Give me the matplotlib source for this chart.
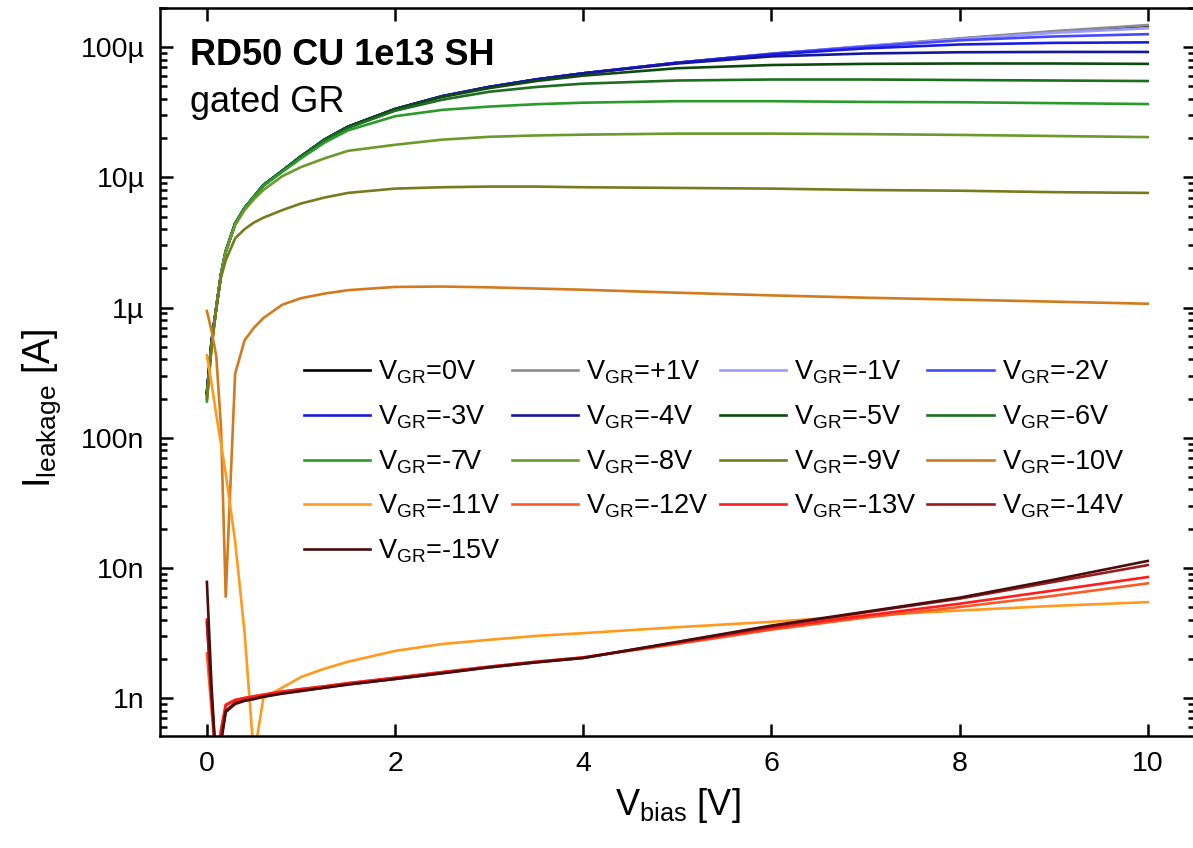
import matplotlib
matplotlib.use('Agg')
import matplotlib.pyplot as plt

plt.rcParams['font.family'] = ['Liberation Sans', 'DejaVu Sans']
plt.rcParams['mathtext.fontset'] = 'custom'
plt.rcParams['mathtext.rm'] = 'Liberation Sans'
plt.rcParams['mathtext.it'] = 'Liberation Sans:italic'
plt.rcParams['mathtext.bf'] = 'Liberation Sans:bold'

# bias voltage points [V]
v_bias = [0, 0.05, 0.1, 0.15, 0.2, 0.3, 0.4, 0.5, 0.6, 0.8, 1.0, 1.25,
          1.5, 2, 2.5, 3, 3.5, 4, 5, 6, 7, 8, 9, 10]

# leakage current [A] for each guard ring voltage
i_gr_0 = [2.2e-7, 5.5e-7, 1.0e-6, 1.8e-6, 2.7e-6, 4.4e-6, 5.8e-6, 7.1e-6, 8.7e-6,
          1.12e-5, 1.45e-5, 1.95e-5, 2.45e-5, 3.35e-5, 4.2e-5, 4.95e-5, 5.65e-5,
          6.3e-5, 7.6e-5, 8.85e-5, 1.01e-4, 1.16e-4, 1.31e-4, 1.46e-4]
i_gr_p1 = [2.2e-7, 5.5e-7, 1.0e-6, 1.8e-6, 2.7e-6, 4.4e-6, 5.8e-6, 7.1e-6, 8.7e-6,
           1.12e-5, 1.45e-5, 1.95e-5, 2.45e-5, 3.35e-5, 4.2e-5, 4.95e-5, 5.65e-5,
           6.3e-5, 7.6e-5, 8.9e-5, 1.02e-4, 1.17e-4, 1.33e-4, 1.48e-4]
i_gr_m1 = [2.2e-7, 5.5e-7, 1.0e-6, 1.8e-6, 2.7e-6, 4.4e-6, 5.8e-6, 7.1e-6, 8.7e-6,
           1.12e-5, 1.45e-5, 1.95e-5, 2.45e-5, 3.35e-5, 4.2e-5, 4.95e-5, 5.65e-5,
           6.3e-5, 7.6e-5, 8.9e-5, 1.02e-4, 1.15e-4, 1.29e-4, 1.40e-4]
i_gr_m2 = [2.2e-7, 5.5e-7, 1.0e-6, 1.8e-6, 2.7e-6, 4.4e-6, 5.8e-6, 7.1e-6, 8.7e-6,
           1.12e-5, 1.45e-5, 1.95e-5, 2.45e-5, 3.35e-5, 4.2e-5, 4.95e-5, 5.65e-5,
           6.3e-5, 7.6e-5, 8.9e-5, 1.01e-4, 1.13e-4, 1.21e-4, 1.26e-4]
i_gr_m3 = [2.2e-7, 5.5e-7, 1.0e-6, 1.8e-6, 2.7e-6, 4.4e-6, 5.8e-6, 7.1e-6, 8.7e-6,
           1.12e-5, 1.45e-5, 1.95e-5, 2.45e-5, 3.35e-5, 4.2e-5, 4.95e-5, 5.65e-5,
           6.3e-5, 7.6e-5, 8.8e-5, 9.8e-5, 1.05e-4, 1.08e-4, 1.09e-4]
i_gr_m4 = [2.2e-7, 5.5e-7, 1.0e-6, 1.8e-6, 2.7e-6, 4.4e-6, 5.8e-6, 7.1e-6, 8.7e-6,
           1.12e-5, 1.45e-5, 1.95e-5, 2.45e-5, 3.35e-5, 4.2e-5, 4.95e-5, 5.65e-5,
           6.3e-5, 7.5e-5, 8.5e-5, 8.95e-5, 9.15e-5, 9.2e-5, 9.2e-5]
i_gr_m5 = [2.2e-7, 5.5e-7, 1.0e-6, 1.8e-6, 2.7e-6, 4.4e-6, 5.8e-6, 7.1e-6, 8.7e-6,
           1.12e-5, 1.45e-5, 1.95e-5, 2.45e-5, 3.35e-5, 4.15e-5, 4.85e-5, 5.5e-5,
           6.05e-5, 6.9e-5, 7.3e-5, 7.45e-5, 7.5e-5, 7.5e-5, 7.45e-5]
i_gr_m6 = [2.1e-7, 5.3e-7, 1.0e-6, 1.8e-6, 2.7e-6, 4.4e-6, 5.8e-6, 7.1e-6, 8.7e-6,
           1.12e-5, 1.45e-5, 1.93e-5, 2.4e-5, 3.25e-5, 3.95e-5, 4.55e-5, 4.95e-5,
           5.25e-5, 5.55e-5, 5.65e-5, 5.65e-5, 5.6e-5, 5.55e-5, 5.5e-5]
i_gr_m7 = [1.9e-7, 5.0e-7, 1.0e-6, 1.8e-6, 2.7e-6, 4.4e-6, 5.8e-6, 7.1e-6, 8.6e-6,
           1.1e-5, 1.4e-5, 1.85e-5, 2.3e-5, 2.95e-5, 3.3e-5, 3.5e-5, 3.65e-5,
           3.75e-5, 3.85e-5, 3.85e-5, 3.8e-5, 3.78e-5, 3.72e-5, 3.66e-5]
i_gr_m8 = [2.0e-7, 5.0e-7, 1.0e-6, 1.8e-6, 2.7e-6, 4.3e-6, 5.6e-6, 6.8e-6, 8.0e-6,
           1.02e-5, 1.2e-5, 1.4e-5, 1.6e-5, 1.78e-5, 1.95e-5, 2.05e-5, 2.1e-5,
           2.13e-5, 2.17e-5, 2.17e-5, 2.15e-5, 2.12e-5, 2.08e-5, 2.04e-5]
i_gr_m9 = [2.0e-7, 5.0e-7, 1.0e-6, 1.7e-6, 2.3e-6, 3.4e-6, 4.0e-6, 4.5e-6, 4.9e-6,
           5.6e-6, 6.3e-6, 7.0e-6, 7.6e-6, 8.2e-6, 8.4e-6, 8.5e-6, 8.5e-6,
           8.4e-6, 8.3e-6, 8.2e-6, 8.0e-6, 7.9e-6, 7.7e-6, 7.6e-6]
i_gr_m10 = [9.4e-7, 6.6e-7, 4.2e-7, 1.2e-7, 6.0e-9, 3.1e-7, 5.6e-7, 7.0e-7, 8.3e-7,
            1.05e-6, 1.18e-6, 1.28e-6, 1.36e-6, 1.44e-6, 1.45e-6, 1.43e-6, 1.4e-6,
            1.37e-6, 1.3e-6, 1.24e-6, 1.19e-6, 1.15e-6, 1.11e-6, 1.07e-6]
i_gr_m11 = [4.3e-7, 2.6e-7, 1.5e-7, 8.9e-8, 5.3e-8, 1.6e-8, 3.2e-9, 3.5e-10, 1.0e-9,
            1.2e-9, 1.45e-9, 1.68e-9, 1.9e-9, 2.3e-9, 2.6e-9, 2.8e-9, 3.0e-9,
            3.15e-9, 3.5e-9, 3.85e-9, 4.3e-9, 4.7e-9, 5.1e-9, 5.45e-9]
i_gr_m12 = [2.2e-9, 8.0e-10, 3.0e-10, 5.8e-10, 8.9e-10, 9.7e-10, 1.0e-9, 1.03e-9, 1.06e-9,
            1.12e-9, 1.17e-9, 1.23e-9, 1.3e-9, 1.43e-9, 1.58e-9, 1.74e-9, 1.9e-9,
            2.05e-9, 2.6e-9, 3.35e-9, 4.15e-9, 5.0e-9, 6.1e-9, 7.6e-9]
i_gr_m13 = [4.0e-9, 1.0e-9, 3.0e-10, 5.5e-10, 8.8e-10, 9.6e-10, 1.0e-9, 1.03e-9, 1.06e-9,
            1.12e-9, 1.17e-9, 1.23e-9, 1.3e-9, 1.43e-9, 1.58e-9, 1.74e-9, 1.9e-9,
            2.05e-9, 2.65e-9, 3.45e-9, 4.3e-9, 5.3e-9, 6.7e-9, 8.5e-9]
i_gr_m14 = [3.8e-9, 1.0e-9, 3.0e-10, 4.8e-10, 8.0e-10, 9.2e-10, 9.6e-10, 9.9e-10, 1.03e-9,
            1.09e-9, 1.14e-9, 1.2e-9, 1.27e-9, 1.4e-9, 1.55e-9, 1.72e-9, 1.88e-9,
            2.03e-9, 2.68e-9, 3.55e-9, 4.55e-9, 5.8e-9, 7.8e-9, 1.05e-8]
i_gr_m15 = [7.8e-9, 1.2e-9, 3.0e-10, 4.5e-10, 7.8e-10, 9.0e-10, 9.5e-10, 9.8e-10, 1.02e-9,
            1.08e-9, 1.13e-9, 1.2e-9, 1.27e-9, 1.4e-9, 1.55e-9, 1.72e-9, 1.88e-9,
            2.03e-9, 2.7e-9, 3.6e-9, 4.6e-9, 5.9e-9, 8.1e-9, 1.13e-8]

gr_labels = ['0V', '+1V', '-1V', '-2V', '-3V', '-4V', '-5V', '-6V', '-7V',
             '-8V', '-9V', '-10V', '-11V', '-12V', '-13V', '-14V', '-15V']
currents = [i_gr_0, i_gr_p1, i_gr_m1, i_gr_m2, i_gr_m3, i_gr_m4, i_gr_m5, i_gr_m6,
            i_gr_m7, i_gr_m8, i_gr_m9, i_gr_m10, i_gr_m11, i_gr_m12, i_gr_m13,
            i_gr_m14, i_gr_m15]
colors = ['#000000', '#8c8c8c', '#9a9aff', '#4848ff', '#1c1ce0', '#16169a',
          '#0e4a10', '#1d6e1f', '#2a9a2a', '#6b9a2a', '#787a1e', '#d27a1e',
          '#ff9a1c', '#ff5a24', '#ff1c1c', '#9a1c1c', '#4a0c0c']

ytick_vals = [1e-9, 1e-8, 1e-7, 1e-6, 1e-5, 1e-4]
ytick_labels = ['1n', '10n', '100n', '1µ', '10µ', '100µ']
xtick_vals = [0, 2, 4, 6, 8, 10]

fig = plt.figure(figsize=(11.93, 8.48), dpi=100)
ax = fig.add_axes([0.134, 0.132, 0.8675, 0.8585])

lines = []
for lab, cur, col in zip(gr_labels, currents, colors):
    ln, = ax.plot(v_bias, cur, color=col, linewidth=1.9,
                  label=r'$\mathregular{V_{GR}}$=' + lab)
    lines.append(ln)

ax.set_yscale('log')
ax.set_xlim(-0.5, 10.5)
ax.set_ylim(5.1e-10, 2.0e-4)
ax.set_xticks(xtick_vals)
ax.set_xticklabels([str(x) for x in xtick_vals])
ax.set_yticks(ytick_vals)
ax.set_yticklabels(ytick_labels)

ax.tick_params(which='both', direction='in', top=True, right=True, width=1.8,
               labelsize=20.5)
ax.tick_params(which='major', length=9, pad=11)
ax.tick_params(which='minor', length=5)
ax.tick_params(axis='x', which='minor', bottom=False, top=False)
for s in ax.spines.values():
    s.set_linewidth(1.8)

ax.set_xlabel(r'$\mathregular{V_{bias}}$ [V]', fontsize=26, labelpad=6)
ax.set_ylabel(r'$\mathregular{I_{leakage}}$ [A]', fontsize=27)
ax.yaxis.set_label_coords(-0.094, 0.45)

ax.text(0.029, 0.922, 'RD50 CU 1e13 SH', transform=ax.transAxes,
        fontsize=26, fontweight='bold', va='baseline')
ax.text(0.029, 0.857, 'gated GR', transform=ax.transAxes,
        fontsize=26, va='baseline')

# legend is filled column by column, so reorder to read row by row
ncol = 4
order = []
for c in range(ncol):
    order += list(range(c, len(lines), ncol))
ax.legend([lines[k] for k in order], [lines[k].get_label() for k in order],
          ncol=ncol, loc='upper left', bbox_to_anchor=(0.139, 0.518),
          frameon=False, fontsize=19.5, handlelength=2.45, handletextpad=0.3,
          columnspacing=0.4, labelspacing=0.63, borderpad=0, borderaxespad=0)

fig.savefig('out.png', dpi=100)
